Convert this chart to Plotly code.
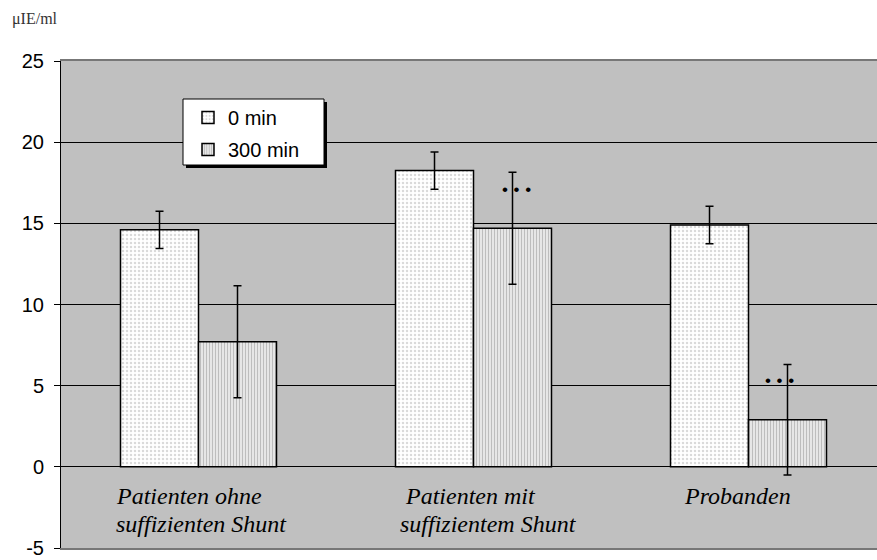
import plotly.graph_objects as go

# ---- data ----
category_lines = [["Patienten ohne", "suffizienten Shunt"],
                  ["Patienten mit", "suffizientem Shunt"],
                  ["Probanden"]]
series_names = ["0 min", "300 min"]
values_0 = [14.6, 18.25, 14.9]
errors_0 = [1.15, 1.15, 1.15]
values_300 = [7.7, 14.7, 2.9]
errors_300 = [3.45, 3.45, 3.4]
significance_300 = [None, 17.1, 5.3]   # "..." markers above 300 min bars
y_ticks = [-5, 0, 5, 10, 15, 20, 25]
y_ticktext = ["-5", "0", "5", "10", "15", "20", "25"]
unit_label = "\u03bcIE/ml"

# ---- style ----
W, H = 877, 560
ML, MT, MB, MR = 61, 61, 12, 0
BW = 0.2836
label_xshift = [[-85, -85], [-71, -76], [-67]]
line_y = [-1.8, -3.5]
sig_shift = [0, 4, -8]

xs = list(range(len(category_lines)))

fig = go.Figure()
fig.add_trace(go.Bar(
    x=xs, y=values_0, name=series_names[0], offset=-BW, width=BW,
    marker=dict(color="white", line=dict(color="black", width=1.5),
                pattern=dict(shape=".", size=4, solidity=0.3, fgcolor="#b4b4b4",
                             bgcolor="white", fillmode="overlay")),
    error_y=dict(type="data", array=errors_0, visible=True, color="black",
                 thickness=1.5, width=4),
    legendgroup="a",
))
fig.add_trace(go.Bar(
    x=xs, y=values_300, name=series_names[1], offset=0, width=BW,
    marker=dict(color="#e6e6e6", line=dict(color="black", width=1.5),
                pattern=dict(shape="|", size=3, solidity=0.45, fgcolor="#8c8c8c",
                             bgcolor="#eeeeee", fillmode="overlay")),
    error_y=dict(type="data", array=errors_300, visible=True, color="black",
                 thickness=1.5, width=4),
    legendgroup="b",
))

annotations = []
for i, lines in enumerate(category_lines):
    for j, line in enumerate(lines):
        annotations.append(dict(x=i, y=line_y[j], xref="x", yref="y",
                                text="<i>" + line + "</i>", showarrow=False,
                                xanchor="left", yanchor="middle",
                                xshift=label_xshift[i][j],
                                font=dict(family="Liberation Serif", size=24, color="black")))
for i, s in enumerate(significance_300):
    if s is None:
        continue
    annotations.append(dict(x=i + BW / 2, y=s, xref="x", yref="y",
                            text="\u2022\u2004\u2022\u2004\u2022", showarrow=False,
                            xanchor="center", yanchor="middle", xshift=sig_shift[i],
                            font=dict(family="Liberation Sans", size=17, color="black")))

pw, ph = W - ML - MR, H - MT - MB
def px(x):
    return (x - ML) / pw
def py(y):
    return (H - MB - y) / ph

annotations.append(dict(x=px(10), y=py(19), xref="paper", yref="paper", text=unit_label,
                        showarrow=False, xanchor="left", yanchor="middle",
                        font=dict(family="Liberation Serif", size=16, color="#333333")))

shapes = [
    dict(type="rect", xref="paper", yref="paper", x0=px(186), x1=px(327), y0=py(168), y1=py(102),
         fillcolor="black", line=dict(width=0), layer="above"),
    dict(type="rect", xref="paper", yref="paper", x0=px(183), x1=px(324), y0=py(165), y1=py(99),
         fillcolor="white", line=dict(color="black", width=1), layer="above"),
]

fig.update_layout(
    width=W, height=H,
    margin=dict(l=ML, r=MR, t=MT, b=MB, pad=0),
    paper_bgcolor="white", plot_bgcolor="#c0c0c0",
    barmode="overlay",
    showlegend=True,
    legend=dict(x=px(188), y=py(98), xanchor="left", yanchor="top",
                bgcolor="rgba(0,0,0,0)", borderwidth=0,
                font=dict(family="Liberation Sans", size=20, color="black"),
                tracegroupgap=3, traceorder="grouped"),
    xaxis=dict(range=[-0.5, -0.5 + pw / 275], showticklabels=False, ticks="",
               showgrid=False, zeroline=False, showline=True, linecolor="#777777",
               linewidth=2, mirror=True, fixedrange=True),
    yaxis=dict(range=[-5, 25], tickvals=y_ticks, ticktext=y_ticktext,
               showgrid=True, gridcolor="black", gridwidth=1, zeroline=False,
               showline=True, linecolor="black", linewidth=1,
               ticks="outside", ticklen=6, tickcolor="black", tickwidth=1,
               ticklabelstandoff=6,
               tickfont=dict(family="Liberation Sans", size=20, color="black")),
    annotations=annotations,
    shapes=shapes,
    font=dict(family="Liberation Sans"),
)

fig.write_html("out.html")
